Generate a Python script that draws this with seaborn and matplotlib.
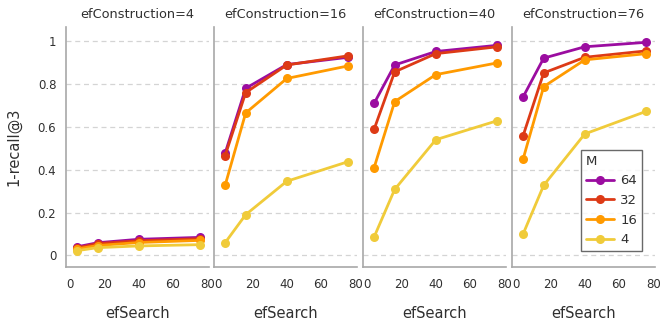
import matplotlib
matplotlib.use("Agg")
import matplotlib.pyplot as plt
import seaborn as sns
import pandas as pd

ef_search = [4, 16, 40, 76]
ef_construction = [4, 16, 40, 76]
m_values = [64, 32, 16, 4]

# 1-recall@3 per efConstruction and M, listed over efSearch
recall_efc4_m64 = [0.040, 0.059, 0.075, 0.084]
recall_efc4_m32 = [0.035, 0.055, 0.068, 0.078]
recall_efc4_m16 = [0.030, 0.046, 0.060, 0.070]
recall_efc4_m4 = [0.022, 0.036, 0.044, 0.050]

recall_efc16_m64 = [0.477, 0.780, 0.891, 0.925]
recall_efc16_m32 = [0.466, 0.760, 0.889, 0.932]
recall_efc16_m16 = [0.327, 0.665, 0.826, 0.885]
recall_efc16_m4 = [0.059, 0.190, 0.346, 0.438]

recall_efc40_m64 = [0.710, 0.889, 0.952, 0.981]
recall_efc40_m32 = [0.589, 0.857, 0.942, 0.974]
recall_efc40_m16 = [0.410, 0.718, 0.844, 0.899]
recall_efc40_m4 = [0.086, 0.308, 0.540, 0.629]

recall_efc76_m64 = [0.740, 0.921, 0.974, 0.995]
recall_efc76_m32 = [0.559, 0.852, 0.925, 0.955]
recall_efc76_m16 = [0.450, 0.788, 0.913, 0.942]
recall_efc76_m4 = [0.100, 0.327, 0.567, 0.673]

table = {
    4: [recall_efc4_m64, recall_efc4_m32, recall_efc4_m16, recall_efc4_m4],
    16: [recall_efc16_m64, recall_efc16_m32, recall_efc16_m16, recall_efc16_m4],
    40: [recall_efc40_m64, recall_efc40_m32, recall_efc40_m16, recall_efc40_m4],
    76: [recall_efc76_m64, recall_efc76_m32, recall_efc76_m16, recall_efc76_m4],
}

rows = []
for efc in ef_construction:
    for m, vals in zip(m_values, table[efc]):
        for s, v in zip(ef_search, vals):
            rows.append({"efConstruction": efc, "M": m, "efSearch": s, "recall": v})
df = pd.DataFrame(rows)

palette = {64: "#9B0DA0", 32: "#DD3A16", 16: "#FF9A00", 4: "#F0CB3A"}

sns.set_style("white")
plt.rcParams["font.family"] = ["DejaVu Sans"]
text_color = "#303030"

fig = plt.figure(figsize=(6.67, 3.33), dpi=100)
W, H = 667.0, 333.0
lefts = [66, 214, 363, 512]
width = 143
top, bottom = 27.3, 266.7

axes = []
for i, efc in enumerate(ef_construction):
    ax = fig.add_axes([lefts[i] / W, 1 - bottom / H, width / W, (bottom - top) / H])
    axes.append(ax)
    sub = df[df["efConstruction"] == efc]
    sns.lineplot(data=sub, x="efSearch", y="recall", hue="M", hue_order=m_values,
                 palette=palette, marker="o", markersize=6.5, markeredgewidth=0,
                 linewidth=2, ax=ax, legend=(i == 3))
    ax.set_xlim(-2.5, 81)
    ax.set_ylim(-0.053, 1.065)
    ax.set_xticks([0, 20, 40, 60, 80])
    ax.set_yticks([0, 0.2, 0.4, 0.6, 0.8, 1.0])
    ax.set_yticklabels(["0", "0.2", "0.4", "0.6", "0.8", "1"])
    ax.yaxis.grid(True, color="#d4d4d4", linestyle=(0, (4, 3)), linewidth=0.9)
    ax.set_axisbelow(True)
    for sp in ["top", "right"]:
        ax.spines[sp].set_visible(False)
    for sp in ["left", "bottom"]:
        ax.spines[sp].set_color("#a8a8a8")
        ax.spines[sp].set_linewidth(1.2)
    ax.tick_params(axis="x", which="both", length=5, color="#555555", labelsize=8.5,
                   labelcolor=text_color, direction="out", pad=3)
    ax.tick_params(axis="y", length=0, labelsize=8.5, labelcolor=text_color, pad=7)
    ax.set_title(f"efConstruction={efc}", fontsize=9.3, color=text_color, pad=7)
    ax.set_xlabel("efSearch", fontsize=10.5, color=text_color, labelpad=11)
    if i == 0:
        ax.set_ylabel("1-recall@3", fontsize=10.5, color=text_color, labelpad=12)
    else:
        ax.set_ylabel("")
        ax.set_yticklabels([])

leg_ax = axes[3]
handles, labels = leg_ax.get_legend_handles_labels()
leg = leg_ax.legend(handles, labels, title="M", loc="lower right",
                    bbox_to_anchor=(0.958, 0.036), frameon=True, fancybox=False,
                    fontsize=9.5, title_fontsize=9.5, handlelength=2.1,
                    borderpad=0.4, labelspacing=0.5, handletextpad=0.5)
leg._legend_box.align = "left"
leg.get_frame().set_edgecolor("#444444")
leg.get_frame().set_linewidth(1.0)
for t in leg.get_texts():
    t.set_color(text_color)
leg.get_title().set_color(text_color)

fig.savefig("out.png", dpi=100)
